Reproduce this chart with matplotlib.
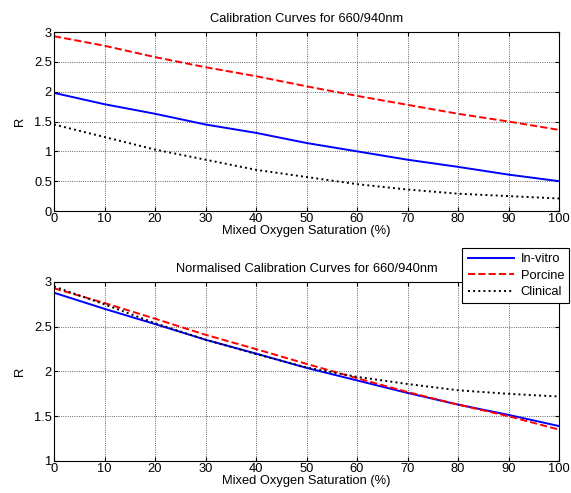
import matplotlib.pyplot as plt
import numpy as np

plt.rcParams["font.family"] = ["Liberation Sans", "DejaVu Sans"]
plt.rcParams["font.size"] = 9.3

sat = [0, 10, 20, 30, 40, 50, 60, 70, 80, 90, 100]

# 标定曲线 (660/940nm)
invitro = [1.98, 1.79, 1.63, 1.45, 1.31, 1.14, 1.00, 0.86, 0.74, 0.61, 0.50]
porcine = [2.93, 2.77, 2.58, 2.41, 2.26, 2.09, 1.93, 1.78, 1.63, 1.50, 1.36]
clinical = [1.45, 1.24, 1.03, 0.86, 0.69, 0.57, 0.45, 0.36, 0.29, 0.25, 0.21]

# 归一化后的曲线
invitro_n = [2.88, 2.70, 2.53, 2.355, 2.20, 2.04, 1.90, 1.76, 1.63, 1.515, 1.39]
porcine_n = [2.93, 2.765, 2.59, 2.41, 2.25, 2.085, 1.925, 1.77, 1.63, 1.50, 1.35]
clinical_n = [2.95, 2.75, 2.54, 2.355, 2.195, 2.045, 1.94, 1.86, 1.79, 1.75, 1.72]

fig = plt.figure(figsize=(5.71, 4.93), dpi=100)
ax1 = fig.add_axes([0.0946, 0.572, 0.8844, 0.363])
ax2 = fig.add_axes([0.0946, 0.065, 0.8844, 0.363])


def style(ax, ylim, yticks, title):
    ax.set_xlim(0, 100)
    ax.set_ylim(*ylim)
    ax.set_xticks(range(0, 101, 10))
    ax.set_yticks(yticks)
    ax.set_yticklabels([f"{t:g}" for t in yticks])
    ax.grid(True, color="#333333", linestyle=":", linewidth=0.6)
    ax.tick_params(direction="in", top=True, right=True, length=3, pad=1.5)
    ax.set_xlabel("Mixed Oxygen Saturation (%)", labelpad=0)
    ax.set_ylabel("R", labelpad=6)
    ax.set_title(title, fontsize=9.3, pad=7)


ax1.plot(sat, invitro, color="blue", linewidth=1.4, label="In-vitro")
ax1.plot(sat, porcine, color="red", linestyle="--", linewidth=1.4, label="Porcine")
ax1.plot(sat, clinical, color="black", linestyle=":", linewidth=1.4, label="Clinical")
style(ax1, (0, 3), [0, 0.5, 1, 1.5, 2, 2.5, 3], "Calibration Curves for 660/940nm")

ax2.plot(sat, invitro_n, color="blue", linewidth=1.4, label="In-vitro")
ax2.plot(sat, porcine_n, color="red", linestyle="--", linewidth=1.4, label="Porcine")
ax2.plot(sat, clinical_n, color="black", linestyle=":", linewidth=1.4, label="Clinical")
style(ax2, (1, 3), [1, 1.5, 2, 2.5, 3], "Normalised Calibration Curves for 660/940nm")

leg = ax2.legend(loc="upper right", bbox_to_anchor=(0.997, 0.497),
                 bbox_transform=fig.transFigure, fancybox=False,
                 edgecolor="black", framealpha=1, borderaxespad=0,
                 handlelength=3.6, labelspacing=0.35, borderpad=0.4,
                 handletextpad=0.5)
leg.get_frame().set_linewidth(0.8)

fig.savefig("out.png", dpi=100)
